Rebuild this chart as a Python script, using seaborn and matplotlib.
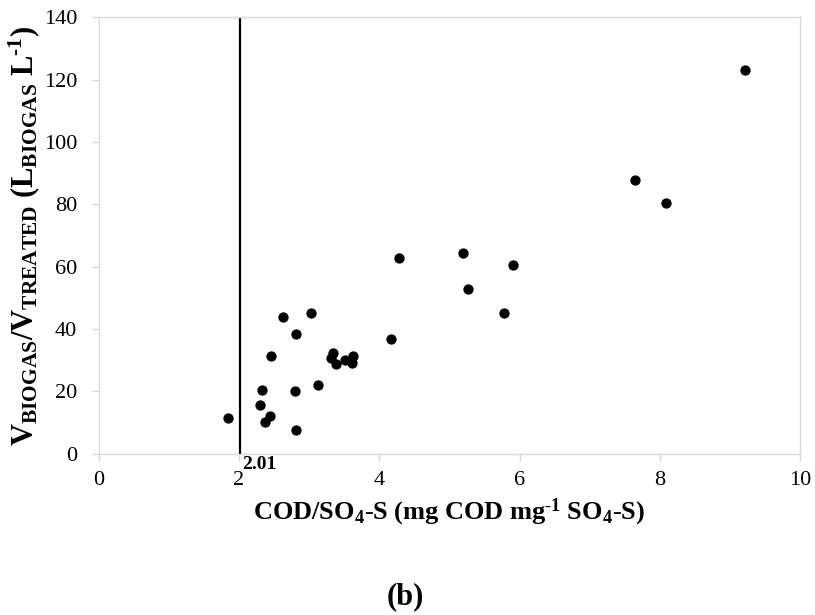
import matplotlib
matplotlib.use("Agg")
import matplotlib.pyplot as plt
import seaborn as sns
import pandas as pd

cod_so4 = [1.85, 2.30, 2.33, 2.37, 2.44, 2.45, 2.63, 2.80, 2.81, 2.81, 3.02, 3.13,
           3.31, 3.34, 3.39, 3.51, 3.61, 3.63, 4.17, 4.28, 5.19, 5.27, 5.77, 5.91,
           7.64, 8.09, 9.21]
v_ratio = [11.5, 15.7, 20.4, 10.2, 12.2, 31.3, 43.8, 20.2, 38.5, 7.6, 45.1, 22.1,
           30.7, 32.5, 28.8, 30.1, 29.1, 31.4, 36.9, 62.8, 64.4, 53.0, 45.2, 60.6,
           87.7, 80.4, 123.1]
threshold = 2.01
x_ticks = [0, 2, 4, 6, 8, 10]
y_ticks = [0, 20, 40, 60, 80, 100, 120, 140]

sns.set_theme(style="white")
plt.rcParams['font.family'] = ['Liberation Serif', 'DejaVu Serif']
plt.rcParams['mathtext.fontset'] = 'custom'
plt.rcParams['mathtext.rm'] = 'Liberation Serif'
plt.rcParams['mathtext.bf'] = 'Liberation Serif:bold'
plt.rcParams['mathtext.it'] = 'Liberation Serif:italic'
plt.rcParams['text.color'] = 'black'
plt.rcParams['axes.labelcolor'] = 'black'

df = pd.DataFrame({"x": cod_so4, "y": v_ratio})

fig = plt.figure(figsize=(8.15, 6.15), dpi=100)
ax = fig.add_axes([0.121, 0.262, 0.861, 0.710])
sns.scatterplot(data=df, x="x", y="y", ax=ax, color="black", s=55, edgecolor="black", linewidth=0, zorder=3)
ax.axvline(threshold, color="black", lw=1.6, ymin=0, ymax=1)
ax.text(threshold + 0.04, -0.8, "2.01", fontsize=14, fontweight="bold", ha="left", va="top")

ax.set_xlim(0, 10)
ax.set_ylim(0, 140)
ax.set_xticks(x_ticks)
ax.set_yticks(y_ticks)
ax.set_xticklabels([str(t) for t in x_ticks])
ax.set_yticklabels([str(t) for t in y_ticks])
ax.tick_params(axis="both", labelsize=16, colors="#d9d9d9", labelcolor="black",
               length=5, width=1, direction="out", bottom=True, left=True)
ax.tick_params(axis="y", pad=10.5)
ax.tick_params(axis="x", pad=7)
for s in ax.spines.values():
    s.set_color("#d9d9d9")
    s.set_linewidth(1)

ax.set_xlabel(r"$\mathbf{COD/SO_4\text{-}S\ (mg\ COD\ mg^{\text{-}1}\ SO_4\text{-}S)}$", fontsize=19, labelpad=5)
ax.set_ylabel(r"$\mathbf{V_{BIOGAS}/V_{TREATED}\ (L_{BIOGAS}\ L^{\text{-}1})}$", fontsize=22, labelpad=1)
fig.text(0.497, 0.018, "(b)", fontsize=22, fontweight="bold", ha="center", va="baseline")

fig.savefig("out.png", dpi=100)
